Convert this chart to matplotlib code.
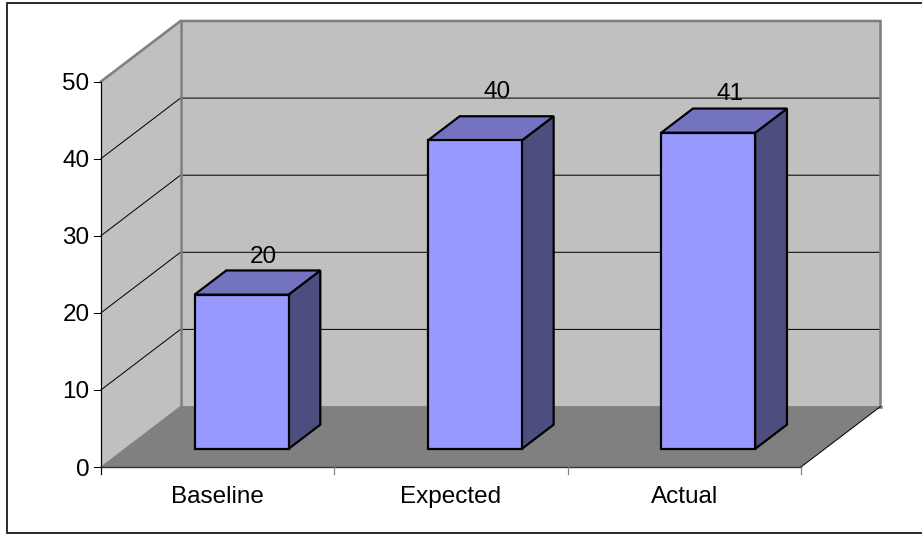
import matplotlib
matplotlib.use("Agg")
import matplotlib.pyplot as plt
from matplotlib.patches import Polygon

categories = ["Baseline", "Expected", "Actual"]
values = [20, 40, 41]
yticks = [0, 10, 20, 30, 40, 50]

W, H = 922, 534
# pixel placement of the front plane of the chart box
x0_px, x1_px = 101, 801
y0_px, y50_px = 467, 81.5
sx = (x1_px - x0_px) / len(categories)
sy = (y0_px - y50_px) / 50

# shift of the back wall, in data units (oblique 3d look)
dx = 79.5 / sx
dy = 60.5 / sy
bar_w = 94 / sx
d_front, d_back = 0.3, 0.7

# extra lift of each value label above its bar, in pixels
label_lift = [23, 34, 24.5]


def proj(x, y, d=0.0):
    return (x + d * dx, y + d * dy)


plt.rcParams["font.family"] = "Liberation Sans"
fig = plt.figure(figsize=(W / 100, H / 100), dpi=100, facecolor="white")
ax = fig.add_axes([0, 0, 1, 1])
ax.set_xlim(-x0_px / sx, (W - x0_px) / sx)
ax.set_ylim(-(H - y0_px) / sy, y0_px / sy)
ax.axis("off")

px = 0.72  # one pixel in points
wall = "#c0c0c0"
floor = "#808080"
edge_grey = "#808080"
n = len(categories)
fs = 17.5

# frame round the chart area, open at the right where it runs off the image
left_x = (7 - x0_px) / sx
right_x = (W - x0_px) / sx
top_y = (y0_px - 3) / sy
bot_y = (y0_px - 533) / sy
ax.plot([right_x, left_x, left_x, right_x], [top_y, top_y, bot_y, bot_y],
        color="#303030", lw=2 * px, solid_joinstyle="miter", zorder=0)

# walls and floor
ax.add_patch(Polygon([proj(0, 0), proj(0, 50), proj(0, 50, 1), proj(0, 0, 1)],
                     fc=wall, ec="none", zorder=1))
ax.add_patch(Polygon([proj(0, 0, 1), proj(0, 50, 1), proj(n, 50, 1), proj(n, 0, 1)],
                     fc=wall, ec="none", zorder=1))
ax.add_patch(Polygon([proj(0, 0), proj(n, 0), proj(n, 0, 1), proj(0, 0, 1)],
                     fc=floor, ec="none", zorder=1))

# gridlines run along the side wall and the back wall
for t in yticks[1:-1]:
    a, b, c = proj(0, t), proj(0, t, 1), proj(n, t, 1)
    ax.plot([a[0], b[0], c[0]], [a[1], b[1], c[1]], color="black", lw=1.0 * px, zorder=2)

# wall outlines
a, b, c, d = proj(0, 50), proj(0, 50, 1), proj(n, 50, 1), proj(n, 0, 1)
ax.plot([a[0], b[0], c[0], d[0]], [a[1], b[1], c[1], d[1]], color=edge_grey, lw=2.6 * px,
        solid_joinstyle="miter", zorder=3)
a, b, c = proj(0, 50, 1), proj(0, 0, 1), proj(n, 0, 1)
ax.plot([a[0], b[0], c[0]], [a[1], b[1], c[1]], color=edge_grey, lw=2.6 * px,
        solid_joinstyle="miter", zorder=3)
a, b = proj(n, 0), proj(n, 0, 1)
ax.plot([a[0], b[0]], [a[1], b[1]], color="black", lw=1.0 * px, zorder=3)
a, b = proj(0, 0), proj(0, 0, 1)
ax.plot([a[0], b[0]], [a[1], b[1]], color=edge_grey, lw=1.0 * px, zorder=3)

# bars: side, top and front faces
for i, v in enumerate(values):
    l = i + 0.5 - bar_w / 2
    r = i + 0.5 + bar_w / 2
    faces = [
        ([proj(r, 0, d_front), proj(r, v, d_front), proj(r, v, d_back), proj(r, 0, d_back)], "#4d4d80"),
        ([proj(l, v, d_front), proj(r, v, d_front), proj(r, v, d_back), proj(l, v, d_back)], "#7373bf"),
        ([proj(l, 0, d_front), proj(r, 0, d_front), proj(r, v, d_front), proj(l, v, d_front)], "#9999ff"),
    ]
    for pts, col in faces:
        ax.add_patch(Polygon(pts, fc=col, ec="black", lw=2.2 * px, joinstyle="miter", zorder=4))
    lx, ly = proj(i + 0.5, v, 0.58)
    ax.text(lx, ly + label_lift[i] / sy, str(v), ha="center", va="center_baseline", fontsize=fs,
            color="black", zorder=5)

# value axis
ax.plot([0, 0], [0, 50], color="black", lw=1.2 * px, zorder=3)
for t in yticks:
    ax.plot([-7 / sx, 0], [t, t], color="black", lw=1.0 * px, zorder=3)
    ax.text(-11.5 / sx, t, str(t), ha="right", va="center_baseline", fontsize=fs, color="black")

# category axis
ax.plot([0, n], [0, 0], color="#333333", lw=1.4 * px, zorder=3)
for i in range(n + 1):
    ax.plot([i, i], [0, -7 / sy], color="black" if i == 0 else edge_grey, lw=1.2 * px, zorder=3)
for i, name in enumerate(categories):
    ax.text(i + 0.5, -36 / sy, name, ha="center", va="baseline", fontsize=fs, color="black")

fig.savefig("out.png", dpi=100, facecolor="white")
